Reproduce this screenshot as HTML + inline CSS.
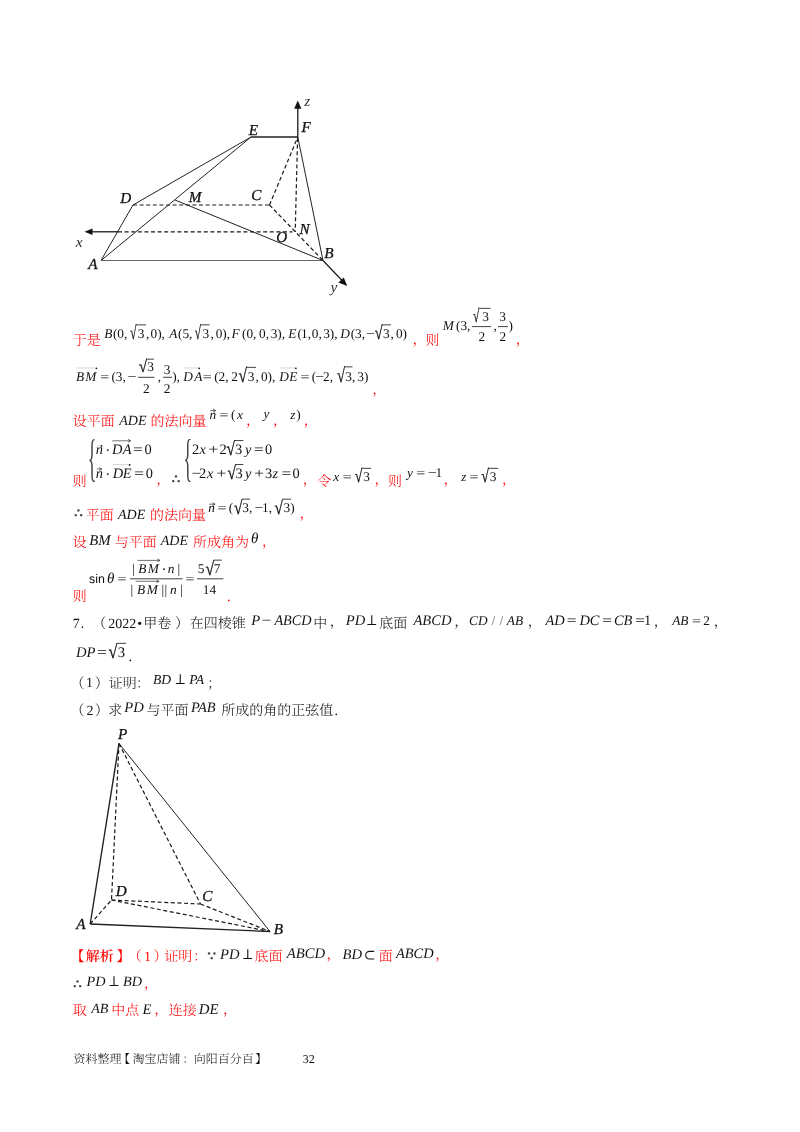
<!DOCTYPE html>
<html lang="zh-CN">
<head>
<meta charset="utf-8">
<title>page 32</title>
<style>
html,body{margin:0;padding:0;background:#fff}
svg{display:block}
text{white-space:pre;text-rendering:geometricPrecision}
.i{font-family:"Liberation Serif",serif;font-style:italic;font-size:13.33px;fill:#111}
.r{font-family:"Liberation Serif",serif;font-size:13.33px;fill:#111}
.it{font-family:"Liberation Serif",serif;font-style:italic;font-size:14px;fill:#111}
.rt{font-family:"Liberation Serif",serif;font-size:14px;fill:#111}
.brc{font-family:"Liberation Serif",serif;fill:#444}
.rad{font-family:"Liberation Serif",serif;fill:#111;stroke:#111;stroke-width:0.3}
.c{font-family:"Liberation Serif","Noto Serif CJK SC",serif;font-size:14px;fill:#f00;font-weight:300}
.k{font-family:"Liberation Serif","Noto Serif CJK SC",serif;font-size:14px;fill:#111;font-weight:300}
.cb{font-family:"Liberation Serif","Noto Serif CJK SC",serif;font-size:14px;fill:#f00;font-weight:600}
.f{font-family:"Liberation Serif","Noto Serif CJK SC",serif;font-size:12px;fill:#111;font-weight:300}
.s{font-family:"DejaVu Math TeX Gyre","DejaVu Sans",sans-serif;font-size:14px;fill:#111}
.fig{font-size:15.2px;stroke:#111;stroke-width:0.3}
.figx{font-size:15.5px;fill:#333}
.ax2{stroke:#111;stroke-width:1.1;fill:none}
.lnb{stroke:#222;stroke-width:1.4;fill:none}
.lng{stroke:#666;stroke-width:1;fill:none}
.rt.c{fill:#f00}
.sl{fill:#666}
.th{fill:#444}
.sa{font-family:"Liberation Sans",sans-serif;font-size:12.4px;fill:#111}
.ln{stroke:#222;stroke-width:1;fill:none}
.ln2{stroke:#222;stroke-width:1.3;fill:none}
.da{stroke:#1a1a1a;stroke-width:1.2;fill:none;stroke-dasharray:4 2.6}
.ax{stroke:#111;stroke-width:1.25;fill:none}
.ah{fill:#111;stroke:none}
.bar{stroke:#111;stroke-width:0.8;fill:none}
.vec{stroke:#333;stroke-width:0.7;fill:none}
.vecl{stroke:#c4c4c4;stroke-width:0.7;fill:none}
.vech{stroke:#333;stroke-width:0.7;fill:none}
</style>
</head>
<body>
<svg width="800" height="1132" viewBox="0 0 800 1132">
<rect x="0" y="0" width="800" height="1132" fill="#fff"/>
<line x1="251" y1="137" x2="297.8" y2="137" class="ln2"/>
<line x1="133" y1="205" x2="251" y2="137" class="ln"/>
<line x1="101" y1="260.5" x2="251" y2="137" class="ln"/>
<line x1="101" y1="260.5" x2="133" y2="205" class="ln"/>
<line x1="101" y1="260.5" x2="323" y2="260.5" class="lng"/>
<line x1="297.8" y1="137" x2="323" y2="260.5" class="ln"/>
<line x1="323" y1="260.5" x2="175" y2="200" class="ln"/>
<line x1="133" y1="205" x2="269.5" y2="205" class="da"/>
<line x1="269.5" y1="205" x2="297.8" y2="137" class="da"/>
<line x1="269.5" y1="205" x2="323" y2="260.5" class="da"/>
<line x1="297.6" y1="138" x2="295.2" y2="232" class="da"/>
<line x1="118" y1="231.8" x2="292.5" y2="231.8" class="da"/>
<line x1="297.8" y1="137" x2="297.8" y2="106" class="ax"/>
<path d="M294.2 108.8 L297.8 100.5 L301.4 108.8 Z" class="ah"/>
<line x1="118" y1="231.8" x2="92" y2="231.8" class="ax"/>
<path d="M92.5 228.6 L84.5 231.8 L92.5 235 Z" class="ah"/>
<line x1="323" y1="260.5" x2="342.5" y2="281" class="ax2"/>
<path d="M338.4 282.6 L347.2 286 L343.8 277.4 Z" class="ah"/>
<text x="304.17" y="105.50" class="i figx">z</text>
<text x="75.67" y="246.50" class="i figx">x</text>
<text x="330.60" y="292.00" class="i figx">y</text>
<text x="248.67" y="134.50" class="i fig">E</text>
<text x="301.57" y="132.00" class="i fig">F</text>
<text x="120.17" y="203.00" class="i fig">D</text>
<text x="188.67" y="202.00" class="i fig">M</text>
<text x="251.27" y="200.00" class="i fig">C</text>
<text x="299.60" y="234.00" class="i fig">N</text>
<text x="276.33" y="242.00" class="i fig">O</text>
<text x="88.23" y="268.50" class="i fig">A</text>
<text x="324.37" y="258.00" class="i fig">B</text>
<line x1="119" y1="743.5" x2="90.2" y2="924" class="lnb"/>
<line x1="119" y1="743.5" x2="270" y2="931.5" class="ln"/>
<line x1="90.2" y1="924" x2="270" y2="931.5" class="lnb"/>
<line x1="119" y1="743.5" x2="111.5" y2="900" class="da"/>
<line x1="119" y1="743.5" x2="200.5" y2="904" class="da"/>
<line x1="111.5" y1="900" x2="200.5" y2="904" class="da"/>
<line x1="111.5" y1="900" x2="270" y2="931.5" class="da"/>
<line x1="200.5" y1="904" x2="270" y2="931.5" class="da"/>
<line x1="90.2" y1="924" x2="111.5" y2="900" class="da"/>
<text x="118.07" y="738.50" class="i fig">P</text>
<text x="115.67" y="896.00" class="i fig">D</text>
<text x="202.27" y="900.50" class="i fig">C</text>
<text x="76.23" y="928.50" class="i fig">A</text>
<text x="273.87" y="934.00" class="i fig">B</text>
<text x="72.67" y="345.40" class="c">于是</text>
<text x="104.37" y="338.00" class="i">B</text>
<text x="112.93" y="338.00" class="r">(0,</text>
<text x="137.77" y="338.00" class="r">3</text>
<text x="146.10" y="338.00" class="r">,</text>
<text x="150.50" y="338.00" class="r">0),</text>
<text x="169.33" y="338.00" class="i">A</text>
<text x="178.03" y="338.00" class="r">(5,</text>
<text x="202.57" y="338.00" class="r">3</text>
<text x="210.50" y="338.00" class="r">,</text>
<text x="215.70" y="338.00" class="r">0),</text>
<text x="231.47" y="338.00" class="i">F</text>
<text x="242.03" y="338.00" class="r">(0,</text>
<text x="259.10" y="338.00" class="r">0,</text>
<text x="270.67" y="338.00" class="r">3),</text>
<text x="288.17" y="338.00" class="i">E</text>
<text x="297.43" y="338.00" class="r">(</text>
<text x="301.03" y="338.00" class="r">1,</text>
<text x="311.80" y="338.00" class="r">0,</text>
<text x="323.17" y="338.00" class="r">3),</text>
<text x="340.17" y="338.00" class="i">D</text>
<text x="350.68" y="338.00" class="r">(3,</text>
<text transform="translate(366.00 338.00) scale(1.2 1)" class="r">−</text>
<text x="382.97" y="338.00" class="r">3</text>
<text x="390.50" y="338.00" class="r">,</text>
<text x="395.90" y="338.00" class="r">0)</text>
<text transform="translate(130.22 339.37) scale(0.590 1)" class="rad" style="font-size:18.80px">√</text>
<line x1="136.0" y1="324.85" x2="146" y2="324.85" class="bar"/>
<text transform="translate(194.72 339.37) scale(0.590 1)" class="rad" style="font-size:18.80px">√</text>
<line x1="200.5" y1="324.85" x2="209.6" y2="324.85" class="bar"/>
<text transform="translate(374.65 339.37) scale(0.753 1)" class="rad" style="font-size:18.80px">√</text>
<line x1="382.09999999999997" y1="324.85" x2="391" y2="324.85" class="bar"/>
<text x="412.45" y="343.70" class="c">，</text>
<text x="425.44" y="345.40" class="c">则</text>
<text x="442.77" y="330.00" class="i">M</text>
<text x="456.03" y="330.00" class="r">(3,</text>
<text x="493.50" y="330.00" class="r">,</text>
<text x="508.57" y="330.00" class="r">)</text>
<line x1="472" y1="326.6" x2="491" y2="326.6" class="bar"/>
<line x1="498" y1="326.6" x2="508" y2="326.6" class="bar"/>
<text x="482.37" y="321.00" class="r">3</text>
<text transform="translate(473.33 322.37) scale(0.589 1)" class="rad" style="font-size:18.17px">√</text>
<line x1="478.90000000000003" y1="308.35" x2="490.5" y2="308.35" class="bar"/>
<text x="478.43" y="340.60" class="r">2</text>
<text x="499.37" y="321.00" class="r">3</text>
<text x="499.43" y="340.60" class="r">2</text>
<text x="515.85" y="343.70" class="c">，</text>
<text x="76.07" y="380.90" class="i">B</text>
<text x="85.37" y="380.90" class="i">M</text>
<text transform="translate(100.20 380.90) scale(1.2 1)" class="r">=</text>
<text x="111.43" y="380.90" class="r">(3,</text>
<text transform="translate(127.60 380.90) scale(1.2 1)" class="r">−</text>
<text x="157.70" y="380.90" class="r">,</text>
<text x="172.17" y="380.90" class="r">),</text>
<text x="183.17" y="380.90" class="i">D</text>
<text x="194.33" y="380.90" class="i">A</text>
<text transform="translate(202.80 380.90) scale(1.2 1)" class="r">=</text>
<text x="214.13" y="380.90" class="r">(2,</text>
<text x="231.33" y="380.90" class="r">2</text>
<text x="247.77" y="380.90" class="r">3</text>
<text x="255.50" y="380.90" class="r">,</text>
<text x="260.90" y="380.90" class="r">0),</text>
<text x="279.17" y="380.90" class="i">D</text>
<text x="289.37" y="380.90" class="i">E</text>
<text transform="translate(300.60 380.90) scale(1.2 1)" class="r">=</text>
<text x="311.83" y="380.90" class="r">(</text>
<text transform="translate(315.20 380.90) scale(1.2 1)" class="r">−</text>
<text x="323.03" y="380.90" class="r">2,</text>
<text x="345.27" y="380.90" class="r">3,</text>
<text x="357.37" y="380.90" class="r">3)</text>
<line x1="75.6" y1="368" x2="96.4" y2="368" class="vecl"/>
<circle cx="96.4" cy="368.3" r="0.85" class="ah"/>
<line x1="183" y1="368" x2="199.2" y2="368" class="vecl"/>
<circle cx="199.2" cy="368.3" r="0.85" class="ah"/>
<line x1="279" y1="368" x2="295.9" y2="368" class="vecl"/>
<circle cx="295.9" cy="368.3" r="0.85" class="ah"/>
<line x1="138" y1="377.3" x2="154.5" y2="377.3" class="bar"/>
<line x1="163" y1="377.3" x2="172" y2="377.3" class="bar"/>
<text transform="translate(139.04 372.18) scale(0.859 1)" class="rad" style="font-size:16.92px">√</text>
<line x1="146.7" y1="359.15000000000003" x2="154" y2="359.15000000000003" class="bar"/>
<text x="147.17" y="370.80" class="r">3</text>
<text x="143.03" y="392.60" class="r">2</text>
<text x="163.77" y="374.00" class="r">3</text>
<text x="163.83" y="392.60" class="r">2</text>
<text transform="translate(238.42 382.26) scale(0.793 1)" class="rad" style="font-size:19.30px">√</text>
<line x1="246.5" y1="367.35" x2="256" y2="367.35" class="bar"/>
<text transform="translate(337.04 382.26) scale(0.729 1)" class="rad" style="font-size:19.92px">√</text>
<line x1="344.7" y1="366.85" x2="352.5" y2="366.85" class="bar"/>
<text x="372.25" y="394.00" class="c">，</text>
<text x="72.70" y="426.20" class="c">设平面</text>
<text x="119.27" y="425.30" class="it">ADE</text>
<text x="150.51" y="426.20" class="c">的法向量</text>
<text x="209.43" y="418.50" class="i">n</text>
<line x1="210.2" y1="410.6" x2="215.4" y2="410.6" class="vec"/>
<path d="M213.0 409.1 L215.8 410.6 L213.0 412.1" class="vech"/>
<text transform="translate(219.50 418.50) scale(1.2 1)" class="r">=</text>
<text x="230.93" y="418.50" class="r">(</text>
<text x="236.97" y="418.50" class="i">x</text>
<text x="246.04" y="424.50" class="c">，</text>
<text x="263.40" y="417.80" class="i">y</text>
<text x="273.05" y="424.50" class="c">，</text>
<text x="290.37" y="418.50" class="i">z</text>
<text x="296.37" y="418.50" class="r">)</text>
<text x="303.85" y="424.50" class="c">，</text>
<text x="72.74" y="485.90" class="c">则</text>
<text transform="translate(87.76 474.68) scale(0.350 1)" class="brc" style="font-size:51.71px">{</text>
<text x="95.80" y="453.75" class="i" style="font-size:14.4px">n</text>
<line x1="96.8" y1="445.6" x2="101.6" y2="445.6" class="vecl"/>
<circle cx="101.6" cy="445.90000000000003" r="0.85" class="ah"/>
<text x="105.78" y="453.75" class="s">⋅</text>
<text x="112.08" y="453.75" class="i" style="font-size:14.4px">D</text>
<text x="122.69" y="453.75" class="i" style="font-size:14.4px">A</text>
<line x1="112.3" y1="440.8" x2="130.4" y2="440.8" class="vec"/>
<path d="M128.0 439.3 L130.8 440.8 L128.0 442.3" class="vech"/>
<text transform="translate(132.94 453.75) scale(1.2 1)" class="r" style="font-size:14.4px">=</text>
<text x="144.56" y="453.75" class="r" style="font-size:14.4px">0</text>
<text x="95.80" y="477.60" class="i" style="font-size:14.4px">n</text>
<line x1="96.8" y1="469" x2="101.6" y2="469" class="vec"/>
<path d="M99.19999999999999 467.5 L102.0 469 L99.19999999999999 470.5" class="vech"/>
<text x="105.78" y="477.60" class="s">⋅</text>
<text x="112.68" y="477.60" class="i" style="font-size:14.4px">D</text>
<text x="122.68" y="477.60" class="i" style="font-size:14.4px">E</text>
<line x1="113" y1="464.6" x2="129.7" y2="464.6" class="vecl"/>
<circle cx="129.7" cy="464.90000000000003" r="0.85" class="ah"/>
<text transform="translate(134.34 477.60) scale(1.2 1)" class="r" style="font-size:14.4px">=</text>
<text x="145.86" y="477.60" class="r" style="font-size:14.4px">0</text>
<text x="156.15" y="483.60" class="c">，</text>
<text x="170.38" y="484.40" class="s th" style="font-size:19px">∴</text>
<text transform="translate(183.56 474.93) scale(0.348 1)" class="brc" style="font-size:52.07px">{</text>
<text x="191.89" y="453.75" class="r" style="font-size:14.4px">2</text>
<text x="199.58" y="453.75" class="i" style="font-size:14.4px">x</text>
<text transform="translate(208.54 453.75) scale(1.2 1)" class="r" style="font-size:14.4px">+</text>
<text x="219.39" y="453.75" class="r" style="font-size:14.4px">2</text>
<text x="235.02" y="453.75" class="r" style="font-size:14.4px">3</text>
<text x="245.09" y="453.75" class="i" style="font-size:14.4px">y</text>
<text transform="translate(253.94 453.75) scale(1.2 1)" class="r" style="font-size:14.4px">=</text>
<text x="265.06" y="453.75" class="r" style="font-size:14.4px">0</text>
<text transform="translate(226.52 455.12) scale(0.811 1)" class="rad" style="font-size:18.86px">√</text>
<line x1="234.6" y1="440.55" x2="243.4" y2="440.55" class="bar"/>
<text transform="translate(191.54 477.60) scale(1.2 1)" class="r" style="font-size:14.4px">−</text>
<text x="198.99" y="477.60" class="r" style="font-size:14.4px">2</text>
<text x="206.98" y="477.60" class="i" style="font-size:14.4px">x</text>
<text transform="translate(216.54 477.60) scale(1.2 1)" class="r" style="font-size:14.4px">+</text>
<text x="235.62" y="477.60" class="r" style="font-size:14.4px">3</text>
<text x="245.09" y="477.60" class="i" style="font-size:14.4px">y</text>
<text transform="translate(254.14 477.60) scale(1.2 1)" class="r" style="font-size:14.4px">+</text>
<text x="265.02" y="477.60" class="r" style="font-size:14.4px">3</text>
<text x="272.48" y="477.60" class="i" style="font-size:14.4px">z</text>
<text transform="translate(281.54 477.60) scale(1.2 1)" class="r" style="font-size:14.4px">=</text>
<text x="292.46" y="477.60" class="r" style="font-size:14.4px">0</text>
<text transform="translate(227.62 478.97) scale(0.819 1)" class="rad" style="font-size:18.67px">√</text>
<line x1="235.7" y1="464.55" x2="243.4" y2="464.55" class="bar"/>
<text x="302.85" y="483.60" class="c">，</text>
<text x="317.22" y="485.90" class="c">令</text>
<text x="333.37" y="481.00" class="i">x</text>
<text transform="translate(342.80 481.00) scale(1.2 1)" class="r">=</text>
<text x="363.17" y="481.00" class="r">3</text>
<text transform="translate(354.86 482.37) scale(0.758 1)" class="rad" style="font-size:18.17px">√</text>
<line x1="362.09999999999997" y1="468.35" x2="371" y2="468.35" class="bar"/>
<text x="374.45" y="483.60" class="c">，</text>
<text x="388.04" y="485.90" class="c">则</text>
<text x="407.10" y="477.40" class="i">y</text>
<text transform="translate(416.20 477.40) scale(1.2 1)" class="r">=</text>
<text transform="translate(427.80 477.40) scale(1.2 1)" class="r">−</text>
<text x="435.43" y="477.40" class="r">1</text>
<text x="443.45" y="483.60" class="c">，</text>
<text x="461.17" y="481.00" class="i">z</text>
<text transform="translate(469.40 481.00) scale(1.2 1)" class="r">=</text>
<text x="489.77" y="481.00" class="r">3</text>
<text transform="translate(481.36 482.37) scale(0.758 1)" class="rad" style="font-size:18.17px">√</text>
<line x1="488.59999999999997" y1="468.35" x2="498" y2="468.35" class="bar"/>
<text x="502.05" y="483.60" class="c">，</text>
<text x="72.88" y="518.40" class="s th" style="font-size:19px">∴</text>
<text x="85.67" y="520.40" class="c">平面</text>
<text x="117.97" y="519.40" class="it">ADE</text>
<text x="149.91" y="520.40" class="c">的法向量</text>
<text x="208.13" y="512.20" class="i">n</text>
<line x1="209" y1="504.2" x2="214.8" y2="504.2" class="vec"/>
<path d="M212.4 502.7 L215.20000000000002 504.2 L212.4 505.7" class="vech"/>
<text transform="translate(217.50 512.20) scale(1.2 1)" class="r">=</text>
<text x="228.83" y="512.20" class="r">(</text>
<text x="242.27" y="512.20" class="r">3,</text>
<text transform="translate(254.50 512.20) scale(1.2 1)" class="r">−</text>
<text x="262.03" y="512.20" class="r">1,</text>
<text x="283.47" y="512.20" class="r">3)</text>
<text transform="translate(234.02 513.57) scale(0.819 1)" class="rad" style="font-size:18.67px">√</text>
<line x1="242.1" y1="499.15000000000003" x2="250" y2="499.15000000000003" class="bar"/>
<text transform="translate(274.62 513.57) scale(0.819 1)" class="rad" style="font-size:18.67px">√</text>
<line x1="282.7" y1="499.15000000000003" x2="291.2" y2="499.15000000000003" class="bar"/>
<text x="299.45" y="517.70" class="c">，</text>
<text x="72.70" y="547.20" class="c">设</text>
<text x="89.25" y="545.20" class="it" style="font-size:14.8px">BM</text>
<text x="114.83" y="547.20" class="c">与平面</text>
<text x="160.77" y="545.20" class="it">ADE</text>
<text x="192.94" y="547.20" class="c">所成角为</text>
<text x="250.89" y="543.40" class="i" style="font-size:15px">θ</text>
<text x="262.05" y="545.50" class="c">，</text>
<text x="72.74" y="601.00" class="c">则</text>
<text x="89.06" y="582.50" class="sa">sin</text>
<text x="106.99" y="582.50" class="i" style="font-size:15px">θ</text>
<text transform="translate(117.60 582.50) scale(1.2 1)" class="r">=</text>
<line x1="130" y1="578.8" x2="182.6" y2="578.8" class="bar"/>
<text x="131.90" y="573.30" class="r">|</text>
<text x="138.37" y="573.30" class="i">B</text>
<text x="147.77" y="573.30" class="i">M</text>
<line x1="137.5" y1="560.4" x2="159.6" y2="560.4" class="vec"/>
<path d="M157.2 558.9 L160.0 560.4 L157.2 561.9" class="vech"/>
<text x="161.88" y="573.30" class="s">⋅</text>
<text x="167.83" y="573.30" class="i">n</text>
<text x="177.60" y="573.30" class="r">|</text>
<text x="130.40" y="594.00" class="r">|</text>
<text x="137.07" y="594.00" class="i">B</text>
<text x="146.87" y="594.00" class="i">M</text>
<line x1="135.6" y1="581.3" x2="158.8" y2="581.3" class="vec"/>
<path d="M156.4 579.8 L159.20000000000002 581.3 L156.4 582.8" class="vech"/>
<text x="161.40" y="594.00" class="r">|</text>
<text x="164.60" y="594.00" class="r">|</text>
<text x="169.93" y="594.00" class="i">n</text>
<text x="180.20" y="594.00" class="r">|</text>
<text transform="translate(185.50 582.50) scale(1.2 1)" class="r">=</text>
<line x1="197" y1="578.8" x2="223.4" y2="578.8" class="bar"/>
<text x="197.63" y="573.30" class="r">5</text>
<text transform="translate(205.41 574.67) scale(0.834 1)" class="rad" style="font-size:18.80px">√</text>
<line x1="213.7" y1="560.15" x2="221.8" y2="560.15" class="bar"/>
<text x="213.73" y="573.30" class="r">7</text>
<text x="202.83" y="593.80" class="r">14</text>
<text x="227.09" y="600.60" class="rt c">.</text>
<text x="72.69" y="628.40" class="rt">7</text>
<text x="80.27" y="627.90" class="k">．</text>
<text x="92.27" y="627.90" class="k">（</text>
<text x="108.31" y="628.40" class="rt">2022</text>
<text x="137.23" y="628.40" class="rt">•</text>
<text x="143.27" y="627.90" class="k">甲卷</text>
<text x="175.03" y="627.90" class="k">）</text>
<text x="189.67" y="627.90" class="k">在四棱锥</text>
<text x="251.27" y="624.60" class="i" style="font-size:14.6px">P</text>
<text transform="translate(261.52 624.60) scale(1.2 1)" class="r" style="font-size:14.6px">−</text>
<text x="274.40" y="624.60" class="i" style="font-size:14.6px" textLength="37.2" lengthAdjust="spacingAndGlyphs">ABCD</text>
<text x="313.26" y="627.90" class="k">中</text>
<text x="329.85" y="626.20" class="k">，</text>
<text x="345.77" y="625.30" class="i" style="font-size:14.6px">PD</text>
<text x="366.28" y="625.20" class="s">⊥</text>
<text x="379.20" y="627.90" class="k">底面</text>
<text x="413.40" y="625.00" class="i" style="font-size:14.6px" textLength="38.2" lengthAdjust="spacingAndGlyphs">ABCD</text>
<text x="454.25" y="626.20" class="k">，</text>
<text x="469.07" y="625.20" class="i">CD</text>
<text x="491.40" y="625.20" class="r sl">/</text>
<text x="499.50" y="625.20" class="r sl">/</text>
<text x="506.83" y="625.20" class="i">AB</text>
<text x="527.85" y="626.20" class="k">，</text>
<text x="545.39" y="625.20" class="i" style="font-size:14.4px">AD</text>
<text transform="translate(566.64 625.20) scale(1.2 1)" class="r" style="font-size:14.4px">=</text>
<text x="579.38" y="625.20" class="i" style="font-size:14.4px">DC</text>
<text transform="translate(602.34 625.20) scale(1.2 1)" class="r" style="font-size:14.4px">=</text>
<text x="613.91" y="625.20" class="i" style="font-size:14.4px">CB</text>
<text transform="translate(635.14 625.20) scale(1.2 1)" class="r" style="font-size:14.4px">=</text>
<text x="643.94" y="625.20" class="r" style="font-size:14.4px">1</text>
<text x="653.64" y="626.20" class="k">，</text>
<text x="672.13" y="625.20" class="i">AB</text>
<text transform="translate(692.00 625.20) scale(1.2 1)" class="r">=</text>
<text x="703.23" y="625.20" class="r">2</text>
<text x="713.64" y="626.20" class="k">，</text>
<text x="75.88" y="656.60" class="i" style="font-size:14.6px">DP</text>
<text transform="translate(97.12 656.60) scale(1.2 1)" class="r" style="font-size:14.6px">=</text>
<text transform="translate(108.60 657.97) scale(0.849 1)" class="rad" style="font-size:18.92px">√</text>
<line x1="117.10000000000001" y1="643.35" x2="126" y2="643.35" class="bar"/>
<text x="117.81" y="656.60" class="r" style="font-size:14.6px">3</text>
<text x="128.45" y="660.60" class="r" style="font-size:14.6px">.</text>
<text x="70.46" y="687.50" class="k">（</text>
<text x="86.08" y="687.10" class="rt">1</text>
<text x="94.72" y="687.50" class="k">）</text>
<text x="108.75" y="687.50" class="k">证明</text>
<text x="136.06" y="687.50" class="k">：</text>
<text x="153.06" y="684.00" class="i" style="font-size:13.6px">BD</text>
<text x="174.68" y="684.00" class="s">⊥</text>
<text x="189.27" y="684.00" class="i" style="font-size:13.6px">PA</text>
<text x="207.25" y="687.50" class="k">；</text>
<text x="70.46" y="715.40" class="k">（</text>
<text x="86.61" y="715.00" class="rt">2</text>
<text x="94.72" y="715.40" class="k">）</text>
<text x="108.33" y="715.40" class="k">求</text>
<text x="124.27" y="712.20" class="i" style="font-size:14.6px">PD</text>
<text x="146.53" y="715.40" class="k">与平面</text>
<text x="191.07" y="712.40" class="i" style="font-size:14.4px">PAB</text>
<text x="221.24" y="715.40" class="k">所成的角的正弦值</text>
<text x="334.49" y="715.40" class="rt">.</text>
<text x="70.42" y="961.00" class="cb">【</text>
<text x="85.78" y="961.00" class="cb">解析</text>
<text x="116.61" y="961.00" class="cb">】</text>
<text x="127.77" y="961.00" class="c">（</text>
<text x="143.97" y="960.60" class="rt c">1</text>
<text x="153.53" y="961.00" class="c">）</text>
<text x="164.34" y="961.00" class="c">证明</text>
<text x="193.25" y="961.00" class="c">：</text>
<text x="206.18" y="961.20" class="s th" style="font-size:19px">∵</text>
<text x="220.07" y="959.20" class="i" style="font-size:14.6px">PD</text>
<text x="242.28" y="959.20" class="s">⊥</text>
<text x="254.60" y="961.00" class="c">底面</text>
<text x="286.81" y="957.90" class="i" style="font-size:14.7px">ABCD</text>
<text x="326.45" y="959.30" class="c">，</text>
<text x="342.55" y="958.90" class="i" style="font-size:14.6px">BD</text>
<text x="363.88" y="958.90" class="s">⊂</text>
<text x="378.87" y="961.00" class="c">面</text>
<text x="395.99" y="957.90" class="i" style="font-size:14.4px">ABCD</text>
<text x="435.25" y="959.30" class="c">，</text>
<text x="72.08" y="989.00" class="s th" style="font-size:19px">∴</text>
<text x="86.47" y="986.40" class="i" style="font-size:14.2px">PD</text>
<text x="108.48" y="986.40" class="s">⊥</text>
<text x="123.06" y="986.40" class="i" style="font-size:14.2px">BD</text>
<text x="144.04" y="987.70" class="c">，</text>
<text x="72.74" y="1015.40" class="c">取</text>
<text x="91.17" y="1013.20" class="it">AB</text>
<text x="111.26" y="1015.40" class="c">中点</text>
<text x="142.58" y="1013.60" class="i" style="font-size:14.6px">E</text>
<text x="154.25" y="1013.70" class="c">，</text>
<text x="168.67" y="1015.40" class="c">连接</text>
<text x="198.78" y="1013.60" class="i" style="font-size:14.8px">DE</text>
<text x="223.04" y="1013.70" class="c">，</text>
<text x="73.48" y="1063.20" class="f">资料整理</text>
<text x="118.19" y="1063.20" class="f">【</text>
<text x="132.55" y="1063.20" class="f">淘宝店铺</text>
<text x="182.39" y="1063.20" class="f">：</text>
<text x="193.77" y="1063.20" class="f">向阳百分百</text>
<text x="254.95" y="1063.20" class="f">】</text>
<text x="302.83" y="1062.80" class="rt" style="font-size:12px">32</text>
</svg>
</body>
</html>
